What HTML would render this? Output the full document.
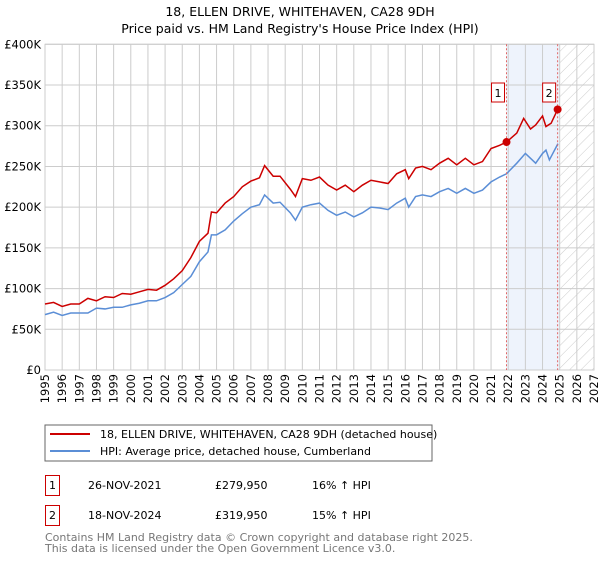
<!DOCTYPE html>
<html><head><meta charset="utf-8"><style>
body{margin:0;background:#fff;font-family:"Liberation Sans","DejaVu Sans",sans-serif}
svg text{font-family:"DejaVu Sans","Liberation Sans",sans-serif}
</style></head><body>
<svg id="chart" width="600" height="560" viewBox="0 0 600 560" xmlns="http://www.w3.org/2000/svg">
<defs><pattern id="hatch" width="8" height="8" patternUnits="userSpaceOnUse" patternTransform="rotate(45)"><line x1="0" y1="0" x2="0" y2="8" stroke="#ccc" stroke-width="1"/></pattern></defs>
<text x="300" y="16" text-anchor="middle" font-size="12.5">18, ELLEN DRIVE, WHITEHAVEN, CA28 9DH</text>
<text x="300" y="33" text-anchor="middle" font-size="12.5">Price paid vs. HM Land Registry's House Price Index (HPI)</text>
<g id="bg"></g><g id="grid"></g><g id="lines"></g><g id="marks"></g><g id="axes"></g>
<rect x="45" y="425" width="387" height="36" fill="#fff" stroke="#666"/>
<line x1="50" y1="434" x2="90" y2="434" stroke="#cc0000" stroke-width="2"/>
<text x="100" y="438" font-size="11">18, ELLEN DRIVE, WHITEHAVEN, CA28 9DH (detached house)</text>
<line x1="50" y1="451" x2="90" y2="451" stroke="#5b8ed6" stroke-width="2"/>
<text x="100" y="455" font-size="11">HPI: Average price, detached house, Cumberland</text>
<g font-size="11">
<rect x="45.5" y="475.5" width="14" height="20" fill="none" stroke="#cc0000"/><text x="52.5" y="489" text-anchor="middle">1</text>
<text x="88" y="489">26-NOV-2021</text><text x="215" y="489">£279,950</text><text x="312" y="489">16% ↑ HPI</text></g>
<g font-size="11">
<rect x="45.5" y="505.5" width="14" height="20" fill="none" stroke="#cc0000"/><text x="52.5" y="519" text-anchor="middle">2</text>
<text x="88" y="519">18-NOV-2024</text><text x="215" y="519">£319,950</text><text x="312" y="519">15% ↑ HPI</text></g>
<text x="45" y="541" font-size="11" fill="#777">Contains HM Land Registry data © Crown copyright and database right 2025.</text>
<text x="45" y="552" font-size="11" fill="#777">This data is licensed under the Open Government Licence v3.0.</text>
</svg>
<script>
const yTicks=[0,50000,100000,150000,200000,250000,300000,350000,400000];
const yTickLabels=["£0","£50K","£100K","£150K","£200K","£250K","£300K","£350K","£400K"];
const xYears=[1995,1996,1997,1998,1999,2000,2001,2002,2003,2004,2005,2006,2007,2008,2009,2010,2011,2012,2013,2014,2015,2016,2017,2018,2019,2020,2021,2022,2023,2024,2025,2026,2027];
const hpiT=[1995,1995.5,1996,1996.5,1997,1997.5,1998,1998.5,1999,1999.5,2000,2000.5,2001,2001.5,2002,2002.5,2003,2003.5,2004,2004.5,2004.7,2005,2005.5,2006,2006.5,2007,2007.5,2007.8,2008.3,2008.7,2009.3,2009.6,2010,2010.5,2011,2011.5,2012,2012.5,2013,2013.5,2014,2014.5,2015,2015.5,2016,2016.2,2016.6,2017,2017.5,2018,2018.5,2019,2019.5,2020,2020.5,2021,2021.5,2021.9,2022.5,2023,2023.3,2023.6,2024,2024.2,2024.4,2024.9];
const hpiV=[68,71,67,70,70,70,76,75,77,77,80,82,85,85,89,95,105,115,133,145,166,166,172,183,192,200,203,215,205,206,193,184,200,203,205,196,190,194,188,193,200,199,197,205,211,200,213,215,213,219,223,217,223,217,221,231,237,241,254,266,260,254,266,270,258,278];
const ppT=[1995,1995.5,1996,1996.5,1997,1997.5,1998,1998.5,1999,1999.5,2000,2000.5,2001,2001.5,2002,2002.5,2003,2003.5,2004,2004.5,2004.7,2005,2005.5,2006,2006.5,2007,2007.5,2007.8,2008.3,2008.7,2009.3,2009.6,2010,2010.5,2011,2011.5,2012,2012.5,2013,2013.5,2014,2014.5,2015,2015.5,2016,2016.2,2016.6,2017,2017.5,2018,2018.5,2019,2019.5,2020,2020.5,2021,2021.5,2021.9,2022.5,2022.9,2023.3,2023.6,2024,2024.2,2024.5,2024.88];
const ppV=[81,83,78,81,81,88,85,90,89,94,93,96,99,98,104,112,122,138,158,168,194,193,205,213,225,232,236,251,238,238,222,213,235,233,237,227,221,227,219,227,233,231,229,241,246,235,248,250,246,254,260,252,260,252,256,272,276,279.95,291,309,296,301,312,299,303,319.95];
const saleT=[2021.9,2024.88];
const saleV=[279.95,319.95];
const saleLabels=["1","2"];
const X0=45,X1=594,Y0=370,Y1=44.3;
const x=t=>X0+(t-1995)/32*(X1-X0);
const y=v=>Y0-v/400000*(Y0-Y1);
const NS="http://www.w3.org/2000/svg";
function mk(tag,attrs,parent){const e=document.createElementNS(NS,tag);for(const k in attrs)e.setAttribute(k,attrs[k]);document.getElementById(parent).appendChild(e);return e;}
// background regions
let r=mk('rect',{x:x(saleT[0]),y:Y1,width:x(2025)-x(saleT[0]),height:Y0-Y1,fill:'#eef3fc'},'bg');


r=mk('rect',{x:x(2025),y:Y1,width:X1-x(2025),height:Y0-Y1,fill:'url(#hatch)'},'bg');


// grid
yTicks.forEach((v,i)=>{mk('line',{x1:X0,x2:X1,y1:y(v),y2:y(v),stroke:'#ccc'},'grid');
const t=mk('text',{x:X0-4,y:y(v)+4,'text-anchor':'end','font-size':'11.5'},'axes');t.textContent=yTickLabels[i];

});
xYears.forEach(yr=>{mk('line',{x1:x(yr),x2:x(yr),y1:Y1,y2:Y0,stroke:'#ccc'},'grid');
const t=mk('text',{x:0,y:0,'text-anchor':'end','font-size':'11.5',transform:`translate(${x(yr)+4},${Y0+4}) rotate(-90)`},'axes');t.textContent=yr;

});
mk('rect',{x:X0,y:Y1,width:X1-X0,height:Y0-Y1,fill:'none',stroke:'#ccc'},'grid');
// lines
let p=mk('polyline',{points:hpiT.map((t,i)=>x(t)+','+y(hpiV[i]*1000)).join(' '),fill:'none',stroke:'#5b8ed6','stroke-width':1.5},'lines');


p=mk('polyline',{points:ppT.map((t,i)=>x(t)+','+y(ppV[i]*1000)).join(' '),fill:'none',stroke:'#cc0000','stroke-width':1.5},'lines');


saleT.forEach((t,i)=>{
mk('line',{x1:x(t),x2:x(t),y1:Y1,y2:Y0,stroke:'#e06666','stroke-dasharray':'2,2'},'marks');
const c=mk('circle',{cx:x(t),cy:y(saleV[i]*1000),r:4,fill:'#cc0000'},'marks');


const b=mk('rect',{x:x(t)-15,y:83,width:13,height:19,fill:'#fff',stroke:'#cc0000'},'marks');


const l=mk('text',{x:x(t)-8.5,y:97,'text-anchor':'middle','font-size':'11'},'marks');l.textContent=saleLabels[i];

});
</script>
</body></html>
